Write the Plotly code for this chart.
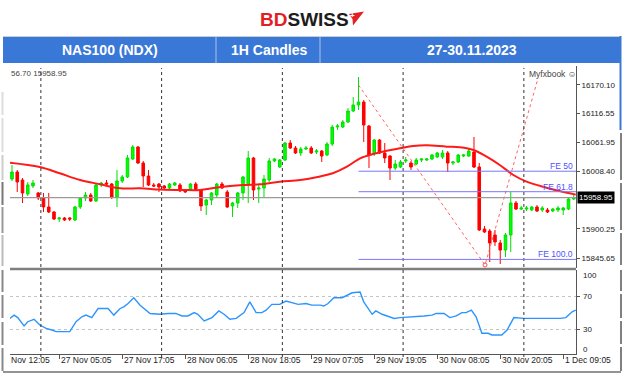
import plotly.graph_objects as go

# ---------------- data ----------------
bars = list(range(108))
opens = [15993.8, 16006.9, 15991.9, 15965.7, 15980.7, 15967.6, 15958.2, 15941.3, 15931.9, 15918.8,
         15920.7, 15920.7, 15916.9, 15941.3, 15958.2, 15963.8, 15952.5, 15982.6, 15986.3, 15984.4,
         15960.0, 15990.1, 15997.6, 16031.3, 16053.8, 16023.8, 15999.4, 15982.6, 15984.4, 15980.7,
         15976.9, 15982.6, 15982.6, 15973.2, 15973.2, 15984.4, 15973.2, 15945.0, 15954.4, 15963.8,
         15984.4, 15969.4, 15943.2, 15948.8, 15967.6, 15982.6, 16033.2, 15975.0, 15976.9, 15991.9,
         16027.6, 16016.3, 16029.4, 16061.3, 16051.9, 16042.6, 16050.1, 16051.9, 16044.4, 16046.3,
         16038.8, 16059.4, 16091.3, 16091.3, 16100.7, 16121.3, 16132.6, 16138.2, 16093.2, 16042.6,
         16066.9, 16042.6, 16036.9, 16014.4, 16016.3, 16027.6, 16023.8, 16021.9, 16029.4, 16029.4,
         16031.3, 16035.1, 16035.1, 16042.6, 16023.8, 16025.7, 16036.9, 16036.9, 16044.4, 16016.3,
         15900.0, 15896.3, 15888.8, 15873.8, 15860.6, 15888.8, 15948.8, 15937.5, 15937.5, 15935.7,
         15941.3, 15935.7, 15935.7, 15933.8, 15935.7, 15935.7, 15937.5, 15956.3]
highs = [16020.1, 16010.7, 15995.7, 15988.2, 15991.9, 15969.4, 15967.6, 15967.6, 15933.8, 15922.5,
         15922.5, 15922.5, 15943.2, 15960.0, 15969.4, 15967.6, 15986.3, 15988.2, 15991.9, 15986.3,
         16010.7, 16001.3, 16038.8, 16057.6, 16055.7, 16027.6, 16010.7, 15986.3, 15986.3, 15982.6,
         15986.3, 15988.2, 15986.3, 15975.0, 15986.3, 15988.2, 15975.0, 15956.3, 15969.4, 15986.3,
         15988.2, 15973.2, 15950.7, 15969.4, 15999.4, 16046.3, 16035.1, 15982.6, 16001.3, 16033.2,
         16033.2, 16031.3, 16063.2, 16066.9, 16055.7, 16053.8, 16055.7, 16055.7, 16050.1, 16048.2,
         16063.2, 16095.1, 16096.9, 16104.5, 16127.0, 16147.6, 16185.1, 16142.0, 16095.1, 16068.8,
         16068.8, 16061.3, 16038.8, 16029.4, 16029.4, 16035.1, 16027.6, 16033.2, 16033.2, 16033.2,
         16040.7, 16044.4, 16048.2, 16046.3, 16027.6, 16040.7, 16040.7, 16050.1, 16072.6, 16023.8,
         15905.7, 15900.0, 15898.2, 15879.4, 15892.5, 15969.4, 15952.5, 15943.2, 15943.2, 15943.2,
         15945.0, 15943.2, 15939.4, 15939.4, 15943.2, 15941.3, 15958.2, 15963.8]
lows = [15990.1, 15969.4, 15948.8, 15961.9, 15976.9, 15954.4, 15931.9, 15930.0, 15916.9, 15913.2,
        15915.0, 15915.0, 15915.0, 15937.5, 15952.5, 15950.7, 15950.7, 15978.8, 15982.6, 15956.3,
        15941.3, 15986.3, 15995.7, 16029.4, 16021.9, 15978.8, 15980.7, 15978.8, 15969.4, 15975.0,
        15975.0, 15980.7, 15969.4, 15967.6, 15971.3, 15971.3, 15933.8, 15926.3, 15945.0, 15960.0,
        15975.0, 15939.4, 15922.5, 15939.4, 15954.4, 15948.8, 15954.4, 15948.8, 15960.0, 15988.2,
        16025.7, 16014.4, 16027.6, 16050.1, 16040.7, 16036.9, 16048.2, 16040.7, 16040.7, 16025.7,
        16036.9, 16055.7, 16085.7, 16089.4, 16098.8, 16119.5, 16123.2, 16063.2, 16014.4, 16036.9,
        16040.7, 16023.8, 15991.9, 16010.7, 16014.4, 16023.8, 16010.7, 16020.1, 16025.7, 16027.6,
        16029.4, 16033.2, 16031.3, 16006.9, 16020.1, 16023.8, 16035.1, 16035.1, 16014.4, 15896.3,
        15892.5, 15838.1, 15868.2, 15834.4, 15847.5, 15856.9, 15935.7, 15935.7, 15933.8, 15933.8,
        15931.9, 15931.9, 15930.0, 15931.9, 15931.9, 15926.3, 15935.7, 15954.4]
closes = [16006.9, 15988.2, 15967.6, 15982.6, 15986.3, 15958.2, 15941.3, 15931.9, 15918.8, 15920.7,
          15916.9, 15918.8, 15941.3, 15958.2, 15963.8, 15952.5, 15982.6, 15986.3, 15984.4, 15960.0,
          15990.1, 15997.6, 16033.2, 16053.8, 16023.8, 15999.4, 15982.6, 15980.7, 15978.8, 15976.9,
          15984.4, 15986.3, 15971.3, 15969.4, 15984.4, 15973.2, 15943.2, 15954.4, 15967.6, 15984.4,
          15976.9, 15941.3, 15948.8, 15967.6, 15997.6, 16033.2, 15973.2, 15976.9, 15993.8, 16027.6,
          16031.3, 16029.4, 16061.3, 16051.9, 16042.6, 16050.1, 16051.9, 16042.6, 16046.3, 16036.9,
          16059.4, 16091.3, 16093.2, 16100.7, 16121.3, 16132.6, 16138.2, 16095.1, 16038.8, 16066.9,
          16042.6, 16033.2, 16014.4, 16021.9, 16025.7, 16029.4, 16016.3, 16029.4, 16031.3, 16031.3,
          16038.8, 16042.6, 16042.6, 16023.8, 16025.7, 16038.8, 16038.8, 16046.3, 16016.3, 15898.2,
          15894.4, 15873.8, 15875.7, 15860.6, 15888.8, 15948.8, 15937.5, 15939.4, 15939.4, 15941.3,
          15933.8, 15939.4, 15931.9, 15937.5, 15939.4, 15939.4, 15956.3, 15958.95]

ma_bars = [-0.4, 5.3, 9.1, 13.0, 16.8, 20.6, 24.4, 28.2, 32.6, 35.8, 39.0, 44.0, 47.2, 51.0, 54.9,
           58.7, 61.1, 63.8, 66.3, 68.8, 71.4, 73.9, 76.4, 79.0, 82.8, 85.3, 87.9, 90.4, 92.9, 95.5,
           98.0, 101.8, 105.7, 107.4]
ma_vals = [16024.4, 16016.3, 16004.5, 15991.9, 15983.9, 15976.4, 15976.4, 15974.1, 15973.2, 15973.2,
           15977.9, 15982.6, 15983.9, 15988.8, 15991.9, 15998.5, 16004.5, 16016.9, 16032.6, 16040.7,
           16046.9, 16051.4, 16055.7, 16057.0, 16054.4, 16053.2, 16048.2, 16035.6, 16020.1, 16001.3,
           15988.8, 15977.5, 15968.0, 15964.5]

rsi_bars = [-0.4, 0.4, 1.1, 2.3, 3.0, 4.2, 5.3, 6.5, 7.6, 8.4, 11.0, 12.2, 13.3, 14.1, 15.2, 16.4,
            18.3, 19.4, 20.6, 21.3, 22.1, 23.2, 24.4, 26.3, 28.2, 29.7, 31.2, 32.4, 33.5, 34.7, 35.4,
            36.6, 38.1, 39.4, 40.4, 41.5, 42.7, 44.2, 45.3, 46.5, 47.6, 48.4, 49.5, 51.0, 52.2, 53.3,
            54.5, 56.0, 57.1, 58.7, 59.4, 60.2, 61.3, 62.9, 64.0, 64.8, 66.3, 67.0, 68.6, 69.3, 70.5,
            71.6, 72.8, 73.9, 77.0, 78.5, 80.0, 80.8, 82.3, 83.4, 84.6, 85.7, 86.5, 87.5, 88.4, 89.5,
            90.7, 91.4, 93.3, 94.3, 95.6, 97.5, 100.6, 104.4, 105.5, 106.7, 107.4]
rsi_vals = [43, 47, 44, 34, 39, 42, 35, 31, 29, 27, 27, 39, 45, 47, 44, 55, 55, 47, 55, 57, 61, 68,
            59, 49, 48, 49, 49, 46, 46, 50, 48, 40, 44, 52, 48, 42, 43, 50, 63, 50, 50, 53, 60, 60,
            64, 62, 60, 61, 59, 59, 58, 61, 68, 68, 71, 74, 75, 63, 48, 52, 48, 46, 43, 44, 45, 46,
            47, 49, 49, 44, 46, 50, 50, 53, 45, 25, 25, 23, 23, 29, 44, 43, 43, 43, 44, 51, 53]

fib_bars = [66.0, 90.1, 100.2]
fib_prices = [16170.0, 15832.5, 16182.7]
fe_names = ["FE 50", "FE 61.8", "FE 100.0"]
fe_levels = [16008.4, 15970.0, 15843.0]

current_price = 15958.95
price_tick_vals = [16170.10, 16116.55, 16061.95, 16008.40, 15900.25, 15845.65]
price_tick_text = ["16170.10", "16116.55", "16061.95", "16008.40", "15900.25", "15845.65"]
rsi_levels = [30, 70]
rsi_label_vals = ["100", "70", "30", "0"]

day_sep_bars = [5.5, 28.5, 51.5, 74.5, 97.5]
time_tick_bars = [9, 21, 33, 45, 57, 69, 81, 93, 105]
time_tick_labels = ["27 Nov 05:05", "27 Nov 17:05", "28 Nov 06:05", "28 Nov 18:05", "29 Nov 07:05",
                    "29 Nov 19:05", "30 Nov 08:05", "30 Nov 20:05", "1 Dec 09:05"]

header_cells = ["NAS100 (NDX)", "1H Candles", "27-30.11.2023"]

# ---------------- layout helpers ----------------
W, H = 624, 379
def px(x):
    return x / W
def py(y):
    return 1 - y / H

X_RANGE = [-0.38, 107.43]
Y_RANGE = [15826.9, 16205.7]
RSI_RANGE = [0, 101.5]
FONT = "Liberation Sans"

fig = go.Figure()

fig.add_trace(go.Candlestick(
    x=bars, open=opens, high=highs, low=lows, close=closes,
    increasing=dict(line=dict(color="#00e000", width=1), fillcolor="#00ff00"),
    decreasing=dict(line=dict(color="#ff0000", width=1), fillcolor="#ff0000"),
    whiskerwidth=0, showlegend=False, hoverinfo="skip", xaxis="x", yaxis="y"))

fig.add_trace(go.Scatter(x=ma_bars, y=ma_vals, mode="lines", line=dict(color="#ff1a1a", width=2, shape="spline"),
                         showlegend=False, hoverinfo="skip", xaxis="x", yaxis="y"))

fig.add_trace(go.Scatter(x=fib_bars, y=fib_prices, mode="lines",
                         line=dict(color="rgba(255,70,70,0.85)", width=1, dash="dot"),
                         showlegend=False, hoverinfo="skip", xaxis="x", yaxis="y"))
fig.add_trace(go.Scatter(x=[fib_bars[1]], y=[fib_prices[1]], mode="markers",
                         marker=dict(symbol="circle-open", size=4, color="#ff5050", line=dict(width=1)),
                         showlegend=False, hoverinfo="skip", xaxis="x", yaxis="y", cliponaxis=False))

fig.add_trace(go.Scatter(x=rsi_bars, y=rsi_vals, mode="lines", line=dict(color="#2b95ff", width=1.4),
                         showlegend=False, hoverinfo="skip", xaxis="x2", yaxis="y2"))

shapes = []
# header band
shapes.append(dict(type="rect", xref="paper", yref="paper", x0=px(3), x1=px(620), y0=py(63), y1=py(36),
                   fillcolor="#3a78d8", line=dict(width=0), layer="below"))
for xd in (216, 320):
    shapes.append(dict(type="line", xref="paper", yref="paper", x0=px(xd), x1=px(xd), y0=py(63), y1=py(36),
                       line=dict(color="rgba(200,215,240,0.8)", width=1)))
shapes.append(dict(type="line", xref="paper", yref="paper", x0=px(3), x1=px(620), y0=py(36.5), y1=py(36.5),
                   line=dict(color="#c8cdd6", width=1)))
# right border
shapes.append(dict(type="line", xref="paper", yref="paper", x0=px(620.5), x1=px(620.5), y0=py(130), y1=py(36),
                   line=dict(color="#3a78d8", width=2)))
for a, b in [(133, 180), (183, 230), (233, 265), (270, 291), (294, 318), (321, 344), (347, 371)]:
    shapes.append(dict(type="line", xref="paper", yref="paper", x0=px(621), x1=px(621), y0=py(b), y1=py(a),
                       line=dict(color="#808080", width=2)))
# left chrome
for a, b, c in [(92, 115, "#dddddd"), (118, 152, "#dddddd"), (155, 180, "#cccccc"), (182, 205, "#777777"),
                (207, 233, "#999999"), (235, 266, "#bbbbbb"), (270, 292, "#888888"), (295, 318, "#888888"),
                (322, 345, "#888888"), (348, 371, "#888888")]:
    shapes.append(dict(type="line", xref="paper", yref="paper", x0=px(2.5), x1=px(2.5), y0=py(b), y1=py(a),
                       line=dict(color=c, width=2)))
# bottom border
shapes.append(dict(type="line", xref="paper", yref="paper", x0=px(3), x1=px(621), y0=py(372), y1=py(372),
                   line=dict(color="#707070", width=1.5)))
# panel separator
shapes.append(dict(type="line", xref="paper", yref="paper", x0=px(10), x1=px(576), y0=py(269), y1=py(269),
                   line=dict(color="#7f7f7f", width=2.5)))
# current price line
shapes.append(dict(type="line", xref="x", yref="y", x0=X_RANGE[0], x1=X_RANGE[1], y0=current_price,
                   y1=current_price, line=dict(color="#9a9a9a", width=1.2)))
# period separators
for b in day_sep_bars:
    shapes.append(dict(type="line", xref="x", yref="paper", x0=b, x1=b, y0=py(357), y1=py(68),
                       line=dict(color="#333333", width=1, dash="dot")))
# FE levels
for lv in fe_levels:
    shapes.append(dict(type="line", xref="x", yref="y", x0=fib_bars[0], x1=X_RANGE[1], y0=lv, y1=lv,
                       line=dict(color="#7878ff", width=1)))
# logo icon
pts = [(349, 14), (364, 11.5), (353, 25.5), (352.5, 19)]
path = "M " + " L ".join(f"{px(a):.5f},{py(b):.5f}" for a, b in pts) + " Z"
shapes.append(dict(type="path", xref="paper", yref="paper", path=path, fillcolor="#e31e24",
                   line=dict(width=0)))

ann = []
def note(x, y, text, size, color, xanchor="center", xref="paper", yref="paper", **kw):
    d = dict(xref=xref, yref=yref, x=x, y=y, text=text, xanchor=xanchor, yanchor=kw.pop("yanchor", "middle"),
             font=dict(family=FONT, size=size, color=color), showarrow=False)
    d.update(kw)
    ann.append(d)

note(px(304), py(19), '<b><span style="color:#e31e24">BD</span>SWISS</b>', 19, "#1c1c1c")
note(px(352.5), py(15.5), "<b>+</b>", 8, "white")
for txt, cx in zip(header_cells, (110, 269, 472)):
    note(px(cx), py(50), f"<b>{txt}</b>", 14, "white")
note(px(9), py(74), "56.70 15958.95", 8, "#444", xanchor="left")
note(px(527), py(74), "Myfxbook ☺", 8.5, "#444", xanchor="left")
for name, lv in zip(fe_names, fe_levels):
    note(X_RANGE[1], lv, name, 8.5, "#5050ff", xanchor="right", xref="x", yref="y",
         yanchor="bottom", xshift=-1, yshift=-2)
note(px(577), current_price, "15958.95", 8, "white", xanchor="left", yref="y", bgcolor="black", borderpad=1)
for txt, yy in zip(rsi_label_vals, (275, 296, 329, 349)):
    note(px(581), py(yy), txt, 8, "#222", xanchor="left")
for b, txt in zip(time_tick_bars, time_tick_labels):
    note(b, py(360), txt, 8.5, "#222", xanchor="left", xref="x2")
note(px(9), py(360), "Nov 12:05", 8.5, "#222", xanchor="left")

fig.update_layout(
    width=W, height=H, margin=dict(l=0, r=0, t=0, b=0),
    paper_bgcolor="white", plot_bgcolor="white", showlegend=False,
    shapes=shapes, annotations=ann,
    xaxis=dict(domain=[px(10), px(576)], range=X_RANGE, anchor="y", visible=False,
               rangeslider=dict(visible=False), fixedrange=True),
    yaxis=dict(domain=[py(268), py(66)], range=Y_RANGE, anchor="x", side="right", showline=True,
               linecolor="#555", linewidth=1, ticks="outside", ticklen=3, tickcolor="#555",
               tickvals=price_tick_vals, ticktext=price_tick_text, showgrid=False, zeroline=False,
               tickfont=dict(family=FONT, size=8, color="#222")),
    xaxis2=dict(domain=[px(10), px(576)], range=X_RANGE, anchor="y2", showline=True, linecolor="#555",
                ticks="outside", ticklen=4, tickcolor="#555", tickvals=time_tick_bars,
                showticklabels=False, showgrid=False, zeroline=False),
    yaxis2=dict(domain=[py(354), py(270)], range=RSI_RANGE, anchor="x2", side="right", showline=True,
                linecolor="#555", ticks="outside", ticklen=3, tickcolor="#555", tickvals=rsi_levels,
                showticklabels=False, showgrid=True, gridcolor="#c4c4c4", griddash="dot", zeroline=False),
)

fig.write_html("out.html", config={"displayModeBar": False},
               post_script="document.body.style.margin='0';document.body.style.overflow='hidden';")
